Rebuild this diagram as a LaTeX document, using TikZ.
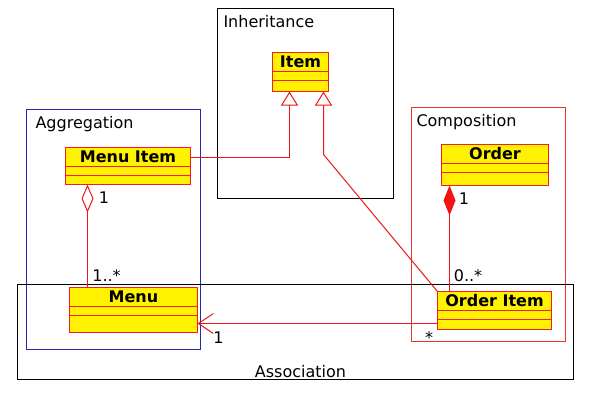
\documentclass[tikz,border=0pt]{standalone}
\usepackage{fontspec}
\setmainfont{DejaVu Sans}
\usetikzlibrary{arrows.meta,calc}
\definecolor{classred}{RGB}{245,30,30}
\definecolor{linered}{RGB}{240,20,20}
\definecolor{aggblue}{RGB}{40,40,170}
\definecolor{compred}{RGB}{230,50,50}
\begin{document}
\begin{tikzpicture}[x=1pt,y=-1pt,
  every node/.style={font=\fontsize{16}{19}\selectfont, inner sep=0pt, outer sep=0pt},
  frame/.style={draw, line width=1pt, fill=none, anchor=north west},
  framelabel/.style={anchor=base west},
  umlclass/.style={draw=classred, fill=yellow, line width=1pt, anchor=north west},
  classname/.style={font=\fontsize{16}{19}\selectfont\bfseries},
  divider/.style={draw=classred, line width=1pt},
  conn/.style={draw=linered, line width=1pt},
  gen/.style={conn, -{Triangle[open, width=17pt, length=14pt, line width=1pt]}},
  agg/.style={conn, -{Diamond[open, width=12pt, length=28pt, line width=1pt]}},
  comp/.style={conn, -{Diamond[width=12pt, length=30pt, fill=linered]}},
  assoc/.style={conn, -{Straight Barb[length=15pt, width=20pt, line width=1pt]}},
  mult/.style={anchor=base}
]
\useasboundingbox (0,0) rectangle (597,407);
\begin{scope}[shift={(0.5,0.5)}]
% frames
\node[frame, draw=black, minimum width=176pt, minimum height=190pt] (inh) at (217,8) {};
\node[framelabel] (inhlabel) at (223,27) {Inheritance};
\node[frame, draw=aggblue, minimum width=174pt, minimum height=240pt] (aggf) at (26,109) {};
\node[framelabel] (agglabel) at (35,127.5) {Aggregation};
\node[frame, draw=compred, minimum width=154pt, minimum height=234pt] (compf) at (411,107) {};
\node[framelabel] (complabel) at (416,126) {Composition};
\node[frame, draw=black, minimum width=556pt, minimum height=95pt] (assf) at (17,284) {};
\node[anchor=base] (asslabel) at (300,377) {Association};
% classes
\node[umlclass, minimum width=56pt, minimum height=39pt] (item) at (272,52) {};
\draw[divider] ($(item.north west)+(0,19)$) -- ($(item.north east)+(0,19)$);
\draw[divider] ($(item.north west)+(0,28)$) -- ($(item.north east)+(0,28)$);
\node[classname] (itemname) at ($(item.north)+(0,9.5)$) {Item};

\node[umlclass, minimum width=125pt, minimum height=37pt] (menuitem) at (65,147) {};
\draw[divider] ($(menuitem.north west)+(0,19)$) -- ($(menuitem.north east)+(0,19)$);
\draw[divider] ($(menuitem.north west)+(0,28)$) -- ($(menuitem.north east)+(0,28)$);
\node[classname] (menuitemname) at ($(menuitem.north)+(0,9.5)$) {Menu Item};

\node[umlclass, minimum width=107pt, minimum height=41pt] (order) at (441,144) {};
\draw[divider] ($(order.north west)+(0,19)$) -- ($(order.north east)+(0,19)$);
\draw[divider] ($(order.north west)+(0,28)$) -- ($(order.north east)+(0,28)$);
\node[classname] (ordername) at ($(order.north)+(0,9.5)$) {Order};

\node[umlclass, minimum width=128pt, minimum height=45pt] (menu) at (69,287) {};
\draw[divider] ($(menu.north west)+(0,19)$) -- ($(menu.north east)+(0,19)$);
\draw[divider] ($(menu.north west)+(0,28)$) -- ($(menu.north east)+(0,28)$);
\node[classname] (menuname) at ($(menu.north)+(0,9.5)$) {Menu};

\node[umlclass, minimum width=114pt, minimum height=38pt] (orderitem) at (437,291) {};
\draw[divider] ($(orderitem.north west)+(0,19)$) -- ($(orderitem.north east)+(0,19)$);
\draw[divider] ($(orderitem.north west)+(0,28)$) -- ($(orderitem.north east)+(0,28)$);
\node[classname] (orderitemname) at ($(orderitem.north)+(0,9.5)$) {Order Item};

% connectors
\draw[gen] ($(menuitem.north east)+(0,10)$) -| ($(item.south west)+(17,0)$);
\coordinate (bend) at (323,154);
\draw[gen] (orderitem.north west) -- (bend) -- (bend |- item.south);
\draw[agg] ($(menu.north west)+(18,0)$) -- ($(menuitem.south west)+(22,0)$);
\draw[comp] ($(orderitem.north west)+(12,0)$) -- ($(order.south west)+(8,0)$);
\draw[assoc] ($(orderitem.south west)+(0,-6)$) -- ($(menu.south east)+(0,-9)$);
% multiplicities
\node[mult] (m1) at (103.5,203) {1};
\node[mult] (m2) at (106,281) {1..*};
\node[mult] (m3) at (463.5,204) {1};
\node[mult] (m4) at (467.5,281) {0..*};
\node[mult] (m5) at (218,343) {1};
\node[mult] (m6) at (428.5,343) {*};
\end{scope}
\end{tikzpicture}
\end{document}
